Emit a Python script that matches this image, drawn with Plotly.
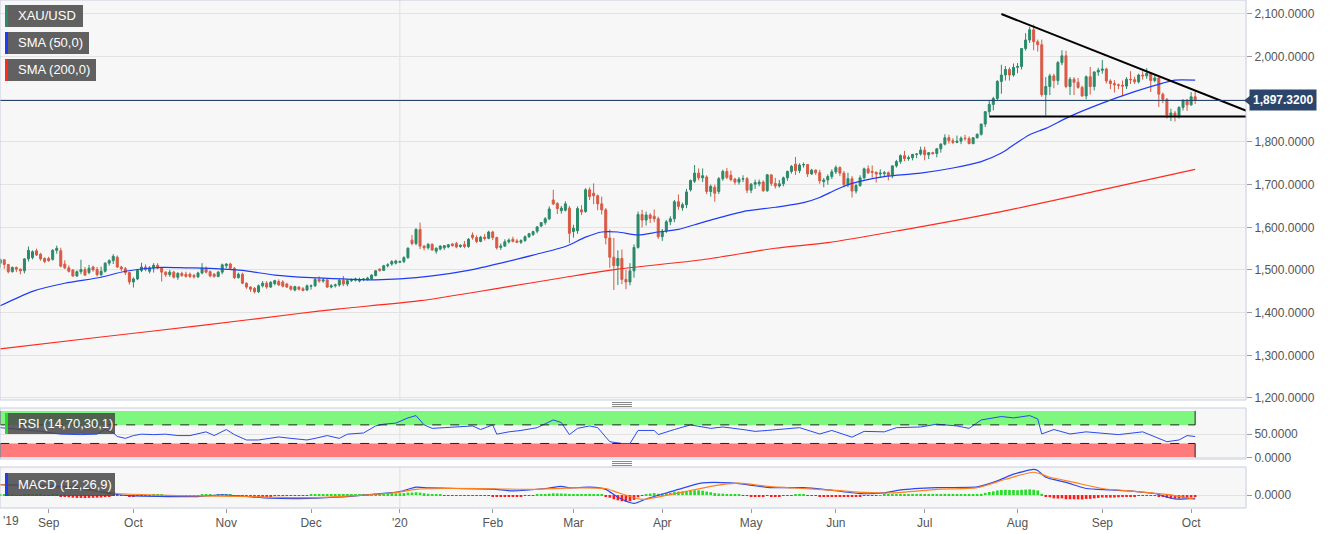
import numpy as np
import pandas as pd
import plotly.graph_objects as go

# ---------------- data ----------------
dates = pd.bdate_range("2019-08-15", "2020-10-02")

# daily candles [open, high, low, close] per month
aug_2019 = [[1516,1527,1505,1524],[1524,1525,1503,1513],[1513,1514,1492,1496],[1496,1508,1494,1506],
            [1506,1508,1495,1502],[1502,1503,1490,1498],[1498,1528,1492,1526],[1526,1555,1520,1546],
            [1529,1546,1525,1543],[1545,1550,1533,1535],[1537,1540,1522,1526],[1527,1530,1516,1520]]
sep_2019 = [[1527,1531,1519,1522],[1525,1549,1522,1546],[1546,1557,1538,1551],[1545,1552,1506,1509],
            [1514,1523,1502,1505],[1505,1511,1494,1497],[1500,1502,1484,1486],[1486,1499,1484,1496],
            [1496,1524,1490,1501],[1501,1507,1486,1488],[1494,1512,1490,1504],[1507,1510,1496,1500],
            [1501,1507,1485,1489],[1489,1508,1485,1497],[1497,1518,1494,1516],[1516,1525,1510,1522],
            [1522,1537,1514,1532],[1530,1534,1505,1507],[1507,1510,1497,1503],[1503,1507,1488,1494],
            [1494,1496,1466,1472]]
oct_2019 = [[1472,1483,1459,1479],[1479,1502,1476,1499],[1499,1517,1495,1507],[1507,1513,1497,1501],
            [1497,1509,1492,1505],[1505,1516,1494,1511],[1511,1516,1502,1505],[1505,1507,1473,1495],
            [1495,1497,1484,1489],[1489,1500,1484,1495],[1495,1498,1480,1483],[1483,1495,1477,1492],
            [1492,1496,1484,1487],[1490,1496,1482,1485],[1490,1494,1481,1485],[1487,1491,1480,1484],
            [1484,1496,1481,1493],[1493,1516,1490,1504],[1504,1508,1492,1495],[1496,1499,1483,1486],
            [1490,1493,1482,1485],[1485,1498,1483,1495],[1495,1515,1490,1512]]
nov_2019 = [[1510,1516,1504,1514],[1514,1517,1502,1504],[1504,1507,1479,1482],[1482,1494,1480,1490],
            [1490,1494,1467,1469],[1469,1471,1456,1460],[1460,1462,1449,1455],[1457,1460,1445,1449],
            [1449,1466,1446,1463],[1463,1474,1459,1469],[1469,1474,1456,1460],[1460,1474,1458,1471],
            [1468,1477,1464,1475],[1473,1478,1463,1465],[1472,1476,1459,1462],[1467,1470,1458,1460],
            [1461,1464,1452,1455],[1453,1463,1450,1461],[1460,1462,1452,1455],[1456,1460,1450,1452],
            [1453,1466,1451,1463]]
dec_2019 = [[1462,1466,1454,1463],[1463,1481,1460,1478],[1478,1485,1470,1474],[1474,1481,1470,1477],
            [1477,1478,1458,1460],[1460,1467,1457,1463],[1463,1468,1459,1465],[1465,1479,1461,1476],
            [1476,1486,1462,1467],[1467,1479,1462,1475],[1475,1480,1472,1477],[1476,1482,1473,1479],
            [1474,1482,1471,1478],[1477,1481,1474,1479],[1478,1484,1475,1481],[1479,1490,1477,1488],
            [1487,1500,1485,1498],[1502,1504,1496,1499],[1499,1512,1498,1510],[1510,1516,1506,1512],
            [1514,1523,1510,1520],[1516,1524,1513,1521]]
jan_2020 = [[1518,1522,1516,1520],[1520,1532,1516,1529],[1529,1553,1526,1551],[1570,1582,1558,1562],
            [1562,1598,1558,1595],[1595,1611,1549,1556],[1556,1558,1546,1552],[1552,1563,1548,1560],
            [1560,1563,1545,1547],[1544,1553,1538,1551],[1549,1558,1546,1556],[1552,1558,1547,1557],
            [1554,1561,1551,1559],[1561,1563,1555,1557],[1562,1566,1551,1554],[1555,1560,1552,1558],
            [1560,1568,1551,1555],[1555,1575,1552,1572],[1582,1588,1571,1576],[1576,1581,1563,1567],
            [1567,1580,1565,1577],[1577,1584,1569,1574],[1574,1592,1572,1589]]
feb_2020 = [[1589,1592,1570,1576],[1576,1578,1548,1552],[1553,1562,1547,1556],[1556,1572,1554,1566],
            [1566,1574,1562,1570],[1572,1578,1565,1567],[1568,1573,1563,1565],[1565,1572,1561,1569],
            [1569,1581,1566,1578],[1578,1587,1575,1585],[1583,1592,1580,1590],[1591,1603,1586,1601],
            [1603,1612,1600,1611],[1611,1624,1606,1620],[1620,1649,1617,1643],[1664,1688,1652,1655],
            [1656,1659,1631,1644],[1639,1650,1632,1645],[1640,1661,1637,1655],[1645,1650,1563,1586]]
mar_2020 = [[1590,1606,1576,1598],[1592,1649,1585,1644],[1641,1652,1629,1636],[1637,1692,1634,1688],
            [1688,1694,1664,1672],[1680,1703,1654,1674],[1674,1677,1640,1655],[1655,1672,1630,1641],
            [1641,1645,1560,1575],[1575,1595,1505,1530],[1530,1575,1453,1510],[1510,1546,1465,1527],
            [1527,1548,1467,1478],[1478,1500,1455,1472],[1472,1516,1464,1498],[1498,1560,1482,1553],
            [1553,1637,1550,1630],[1630,1641,1600,1617],[1617,1637,1604,1629],[1629,1633,1610,1621],
            [1626,1642,1612,1620],[1620,1625,1573,1578]]
apr_2020 = [[1578,1596,1568,1591],[1591,1617,1587,1613],[1613,1626,1605,1620],[1620,1664,1612,1660],
            [1660,1677,1641,1649],[1646,1658,1639,1653],[1653,1690,1645,1683],[1688,1712,1684,1710],
            [1708,1746,1704,1727],[1727,1738,1710,1716],[1716,1738,1706,1721],[1718,1722,1678,1684],
            [1684,1700,1672,1696],[1694,1700,1660,1680],[1684,1718,1678,1714],[1714,1735,1709,1731],
            [1731,1739,1713,1717],[1722,1733,1708,1712],[1713,1716,1700,1706],[1706,1718,1700,1713],
            [1713,1722,1706,1714],[1714,1718,1680,1687]]
may_2020 = [[1687,1704,1680,1701],[1701,1712,1690,1705],[1702,1712,1696,1706],[1706,1710,1683,1686],
            [1686,1725,1683,1723],[1723,1723,1697,1703],[1703,1716,1691,1697],[1697,1711,1693,1702],
            [1702,1719,1696,1716],[1716,1733,1709,1731],[1731,1746,1726,1743],[1748,1765,1723,1733],
            [1733,1750,1727,1746],[1746,1752,1740,1747],[1747,1748,1718,1725],[1725,1737,1723,1734],
            [1734,1736,1723,1728],[1728,1735,1702,1709],[1707,1716,1694,1711],[1711,1724,1700,1719],
            [1719,1736,1713,1730]]
jun_2020 = [[1730,1745,1725,1740],[1740,1743,1720,1727],[1727,1732,1694,1700],[1700,1728,1694,1714],
            [1714,1720,1670,1685],[1685,1702,1679,1698],[1698,1722,1695,1716],[1716,1740,1712,1737],
            [1737,1745,1725,1728],[1731,1745,1716,1729],[1729,1731,1705,1725],[1725,1736,1716,1727],
            [1726,1732,1718,1728],[1728,1731,1710,1722],[1722,1745,1715,1744],[1744,1758,1740,1754],
            [1754,1771,1749,1768],[1768,1779,1755,1761],[1761,1768,1756,1763],[1763,1772,1757,1771],
            [1771,1773,1762,1772],[1772,1789,1768,1781]]
jul_2020 = [[1781,1789,1757,1770],[1770,1776,1760,1775],[1775,1777,1770,1773],[1773,1786,1764,1784],
            [1784,1797,1775,1795],[1795,1818,1792,1810],[1810,1817,1796,1803],[1803,1809,1795,1799],
            [1799,1815,1797,1802],[1802,1813,1795,1809],[1809,1817,1803,1808],[1808,1813,1795,1796],
            [1796,1811,1795,1810],[1810,1820,1808,1818],[1818,1843,1815,1842],[1842,1872,1835,1871],
            [1871,1898,1862,1888],[1888,1906,1874,1902],[1902,1945,1898,1942],[1942,1981,1913,1957],
            [1957,1978,1944,1970],[1970,1975,1944,1957],[1957,1984,1953,1975]]
aug_2020 = [[1975,1985,1961,1977],[1977,2020,1970,2019],[2019,2055,2014,2039],[2039,2070,2032,2063],
            [2063,2075,2015,2035],[2035,2040,2012,2028],[2028,2040,1906,1911],[1911,1952,1862,1930],
            [1930,1960,1910,1955],[1955,1960,1926,1944],[1944,1990,1934,1986],[1986,2015,1980,2002],
            [2002,2014,1926,1930],[1930,1952,1910,1947],[1947,1952,1910,1940],[1940,1950,1925,1928],
            [1928,1932,1906,1908],[1908,1956,1900,1953],[1953,1976,1911,1930],[1930,1966,1921,1964],
            [1964,1974,1955,1968]]
sep_2020 = [[1968,1992,1960,1971],[1971,1974,1937,1943],[1943,1947,1924,1937],[1937,1945,1916,1934],
            [1934,1937,1924,1933],[1933,1944,1907,1931],[1931,1952,1924,1947],[1947,1966,1936,1946],
            [1946,1953,1936,1941],[1941,1960,1937,1957],[1957,1966,1946,1955],[1955,1973,1948,1961],
            [1961,1962,1917,1944],[1944,1959,1940,1950],[1950,1953,1882,1912],[1912,1916,1891,1900],
            [1900,1903,1855,1863],[1863,1878,1849,1868],[1868,1873,1848,1862],[1862,1884,1855,1881],
            [1881,1900,1874,1898],[1898,1901,1873,1887]]
oct_2020 = [[1887,1917,1885,1906],[1906,1918,1889,1897.32]]

# SMA (50)
sma50_dates = ["2019-08-15","2019-08-27","2019-09-06","2019-09-19","2019-09-27","2019-10-10","2019-10-18",
               "2019-10-28","2019-11-07","2019-11-19","2019-12-02","2019-12-12","2019-12-24","2020-01-01",
               "2020-01-13","2020-01-24","2020-02-05","2020-02-17","2020-02-27","2020-03-05","2020-03-11",
               "2020-03-17","2020-03-24","2020-03-31","2020-04-07","2020-04-13","2020-04-17","2020-04-29",
               "2020-05-11","2020-05-20","2020-05-26","2020-06-01","2020-06-05","2020-06-17","2020-06-30",
               "2020-07-10","2020-07-21","2020-07-28","2020-07-31","2020-08-06","2020-08-12","2020-08-20",
               "2020-09-01","2020-09-11","2020-09-22","2020-09-25","2020-10-02"]
sma50_vals = [1416,1450,1469,1483,1497,1506,1505,1504,1499,1488,1482,1479,1477,1479,1486,1499,1516,1535,
              1555,1577,1589,1589,1582,1589,1595,1606,1617,1637,1647,1658,1670,1688,1703,1719,1727,1739,
              1754,1774,1793,1817,1832,1860,1891,1918,1938,1945,1945]
# SMA (200)
sma200_dates = ["2019-08-15","2019-09-19","2019-10-24","2019-11-27","2019-12-11","2020-01-08","2020-02-05",
                "2020-02-27","2020-03-17","2020-04-15","2020-05-11","2020-05-28","2020-06-23","2020-07-28",
                "2020-08-31","2020-10-02"]
sma200_vals = [1315,1343,1370,1398,1409,1428,1458,1483,1502,1524,1551,1564,1593,1637,1686,1736]

# RSI (14)
rsi_dates = ["2019-08-15","2019-08-23","2019-08-29","2019-09-05","2019-09-12","2019-09-18","2019-09-20",
             "2019-09-24","2019-09-25","2019-09-27","2019-10-01","2019-10-03","2019-10-08","2019-10-11",
             "2019-10-16","2019-10-21","2019-10-25","2019-10-29","2019-11-01","2019-11-05","2019-11-08",
             "2019-11-13","2019-11-20","2019-11-25","2019-11-29","2019-12-03","2019-12-06","2019-12-11",
             "2019-12-13","2019-12-19","2019-12-24","2019-12-26","2019-12-31","2020-01-03","2020-01-07",
             "2020-01-09","2020-01-13","2020-01-16","2020-01-21","2020-01-27","2020-01-29","2020-02-03",
             "2020-02-04","2020-02-07","2020-02-12","2020-02-18","2020-02-24","2020-02-26","2020-02-28",
             "2020-03-03","2020-03-06","2020-03-10","2020-03-13","2020-03-18","2020-03-20","2020-03-24",
             "2020-03-30","2020-03-31","2020-04-06","2020-04-10","2020-04-17","2020-04-22","2020-04-29",
             "2020-05-04","2020-05-07","2020-05-14","2020-05-19","2020-05-26","2020-05-29","2020-06-05",
             "2020-06-10","2020-06-17","2020-06-22","2020-06-30","2020-07-06","2020-07-13","2020-07-16",
             "2020-07-21","2020-07-28","2020-07-31","2020-08-06","2020-08-10","2020-08-11","2020-08-14",
             "2020-08-20","2020-08-26","2020-09-01","2020-09-07","2020-09-15","2020-09-18","2020-09-23",
             "2020-09-28","2020-09-30","2020-10-02"]
rsi_vals = [64,60,56,50,49,50,60,53,45,41,47,50,49,50,47,47,55,47,60,49,37.5,37.5,44,41,37.5,41,47,41,
            50,52.6,67.7,71.5,73.8,85,90,70,62.5,64,65.5,67.7,60,70,50,55,58,64,80.6,75,49,62.5,67.7,64,
            33.8,30,30,58,58,49,60,70,62.5,65.5,60,56,58,62.5,64,50.4,58,43.6,56,55,64,65.5,71.5,67.7,
            62.5,80.6,88,85,90,82.8,50.4,60,50.4,55,52.6,49,55,45,33.8,37.5,47,45]

# MACD (12,26,9)
macd_dates = ["2019-08-15","2019-08-29","2019-09-12","2019-09-23","2019-09-30","2019-10-09","2019-10-23",
              "2019-10-31","2019-11-12","2019-11-18","2019-11-27","2019-12-10","2019-12-24","2020-01-01",
              "2020-01-07","2020-01-10","2020-01-21","2020-02-03","2020-02-10","2020-02-20","2020-02-26",
              "2020-02-28","2020-03-06","2020-03-12","2020-03-17","2020-03-23","2020-03-26","2020-04-02",
              "2020-04-07","2020-04-15","2020-04-24","2020-04-30","2020-05-08","2020-05-20","2020-05-27",
              "2020-06-09","2020-06-17","2020-06-23","2020-07-06","2020-07-20","2020-07-27","2020-07-31",
              "2020-08-07","2020-08-10","2020-08-12","2020-08-19","2020-08-26","2020-09-03","2020-09-11",
              "2020-09-18","2020-09-25","2020-10-02"]
macd_vals = [24,22,16.5,3.6,-1.4,-3,-3.6,0.7,-5,-7.2,-8,-5,2.2,8,18,16.5,15,13.7,9.4,15,20,16.5,18,13,
             -5,-19,-9,4.8,13,27.6,27.6,24,17,17,13,3.5,4.8,11.7,17,18.6,32.4,47.6,58.6,56,40.7,29,15,
             11.7,8.3,3.5,-9,-7.6]
signal_dates = ["2019-08-15","2019-09-12","2019-09-25","2019-10-09","2019-10-23","2019-11-06","2019-11-20",
                "2019-12-03","2019-12-17","2019-12-31","2020-01-07","2020-01-16","2020-02-03","2020-02-17",
                "2020-03-02","2020-03-12","2020-03-17","2020-03-25","2020-04-02","2020-04-09","2020-04-17",
                "2020-04-28","2020-05-07","2020-05-20","2020-06-02","2020-06-10","2020-06-19","2020-07-06",
                "2020-07-20","2020-07-29","2020-08-07","2020-08-13","2020-08-21","2020-09-01","2020-09-11",
                "2020-09-23","2020-10-02"]
signal_vals = [24,13,3.6,0,-2,-3,-5,-5.8,-1.4,5.8,13,15,14.4,13,16.5,15,5.8,-10,-0.7,8.3,20,27,20,15,10,
               6.2,4.8,13,17,36,52,40.7,29,15,8.3,1.4,-10]
hist_aug19 = [1.5,1.2,0.5,0.2,-0.3,-0.2,0.8,1.5,1.8,1.2,0.5,-0.2]
hist_sep19 = [-0.5,0.3,0.2,-2.5,-4,-5,-6,-6.5,-6.5,-6.8,-6.5,-6.2,-6,-5.5,-4.5,-2.5,-2,-1.5,-1.8,-2,-2.5]
hist_oct19 = [-2.2,-1.5,-0.8,-0.5,-0.3,0.2,0.3,0.2,-0.2,-0.3,-0.5,-0.4,-0.5,-0.6,-0.7,-0.5,-0.3,0.3,0.5,
              0.4,0.1,0.3,0.8]
hist_nov19 = [0.6,0.2,-1,-1.8,-2.6,-3.2,-3.5,-3.6,-3.4,-3,-2.8,-2.3,-1.8,-1.5,-1.2,-1,-0.8,-0.6,-0.5,-0.3,-0.1]
hist_dec19 = [0.3,0.8,0.8,0.9,0.4,0.5,0.6,1,1,1.2,1.4,1.6,1.8,1.9,2.1,2.6,3.2,3.4,3.6,3.8,4,4.1]
hist_jan20 = [4.2,4.5,5.5,5.8,6.5,5.6,4.2,3,1.8,0.8,0.2,-0.3,-0.6,-0.9,-1.2,-1.3,-1.5,-1.2,-0.8,-1,-1.3,
              -1.5,-1.2]
hist_feb20 = [-2.2,-3.5,-3.8,-3.5,-3,-2.8,-2.6,-2.2,-1.8,-1.2,-0.5,0.3,1,2,3.2,4,3.8,3.5,3.2,1]
hist_mar20 = [0.2,1.5,1.8,2.5,2.8,2.4,1.5,0.3,-2.5,-6,-9.5,-12,-14,-15.5,-14,-11,-5,-1.5,1.5,3.5,4.5,3]
hist_apr20 = [3.5,4.5,5,7.5,8,8.5,9.5,10.5,11,11,10,8,6.5,4.5,3.5,3.2,2.5,1.8,1,0.5,-0.5,-2]
hist_may20 = [-2.5,-2.8,-3,-2.8,-2,-2.4,-2.8,-2.5,-2,-1.2,-0.2,0.5,0.6,0.3,-0.8,-1.5,-2,-3,-3.8,-4,-3.8]
hist_jun20 = [-3.2,-3.6,-4.4,-4.2,-4.5,-3.8,-2.8,-1.5,-0.8,-0.3,-0.2,0.1,0.3,0.4,1,1.6,2.3,2.4,2.5,2.6,
              2.6,2.8]
hist_jul20 = [2.4,2.2,1.9,2,2.3,2.8,2.6,2.2,1.9,1.8,1.6,1.2,1.2,1.5,2.8,5,7,8.5,10.5,11.5,12,11.5,11.5]
hist_aug20 = [11,12,12.5,13,12,10.5,3,-2.5,-5,-7.5,-8,-7.5,-9.5,-9.5,-9.5,-9.8,-10,-8.8,-8.5,-7.5,-6.5]
hist_sep20 = [-5.5,-5.8,-5.8,-5.6,-5,-4.5,-3.8,-3.2,-2.8,-2,-1.4,-0.8,-0.8,-0.6,-2.5,-4,-6.5,-7.8,-8.5,
              -8,-7,-6.8]
hist_oct20 = [-5.5,-4.5]

# hand-drawn trend lines (date, price)
upper_trend_dates = ["2020-07-28", "2020-10-21"]
upper_trend_vals = [2100, 1872]
lower_trend_dates = ["2020-07-23", "2020-10-21"]
lower_trend_vals = [1860, 1860]
last_price = 1897.32

month_labels = ["Sep", "Oct", "Nov", "Dec", "'20", "Feb", "Mar", "Apr", "May", "Jun", "Jul", "Aug", "Sep", "Oct"]
month_starts = ["2019-09-01", "2019-10-01", "2019-11-01", "2019-12-01", "2020-01-01", "2020-02-01",
                "2020-03-01", "2020-04-01", "2020-05-01", "2020-06-01", "2020-07-01", "2020-08-01",
                "2020-09-01", "2020-10-01"]

# ---------------- assemble ----------------
months = [aug_2019, sep_2019, oct_2019, nov_2019, dec_2019, jan_2020, feb_2020, mar_2020,
          apr_2020, may_2020, jun_2020, jul_2020, aug_2020, sep_2020, oct_2020]
rows = [r for m in months for r in m]
hist = (hist_aug19 + hist_sep19 + hist_oct19 + hist_nov19 + hist_dec19 + hist_jan20 + hist_feb20 +
        hist_mar20 + hist_apr20 + hist_may20 + hist_jun20 + hist_jul20 + hist_aug20 + hist_sep20 + hist_oct20)
assert len(rows) == len(dates), (len(rows), len(dates))
assert len(hist) == len(dates), (len(hist), len(dates))
opens = [r[0] for r in rows]
highs = [r[1] for r in rows]
lows = [r[2] for r in rows]
closes = [r[3] for r in rows]

start = dates[0].date()
def pos(d):
    return int(np.busday_count(start, pd.Timestamp(d).date()))

xi = list(range(len(dates)))
last_i = xi[-1]

GREEN = "#2b8a69"
RED = "#d85a44"
FONT = "Arial, Liberation Sans, sans-serif"
W_PLOT, H_PLOT = 1246.0, 508.0
def px(v): return v / W_PLOT
def py(v): return 1 - v / H_PLOT

fig = go.Figure()
fig.add_trace(go.Candlestick(
    x=xi, open=opens, high=highs, low=lows, close=closes,
    increasing=dict(line=dict(color=GREEN, width=1), fillcolor=GREEN),
    decreasing=dict(line=dict(color=RED, width=1), fillcolor=RED),
    whiskerwidth=0, xaxis="x", yaxis="y", hoverinfo="skip"))
fig.add_trace(go.Scatter(x=[pos(d) for d in sma50_dates], y=sma50_vals, mode="lines",
                         line=dict(color="#1f3cf5", width=1.2, shape="spline", smoothing=0.7),
                         xaxis="x", yaxis="y"))
fig.add_trace(go.Scatter(x=[pos(d) for d in sma200_dates], y=sma200_vals, mode="lines",
                         line=dict(color="#ff2a1f", width=1.2, shape="spline", smoothing=0.7),
                         xaxis="x", yaxis="y"))
fig.add_trace(go.Scatter(x=[pos(d) for d in upper_trend_dates], y=upper_trend_vals, mode="lines",
                         line=dict(color="black", width=2), xaxis="x", yaxis="y"))
fig.add_trace(go.Scatter(x=[pos(d) for d in lower_trend_dates], y=lower_trend_vals, mode="lines",
                         line=dict(color="black", width=2), xaxis="x", yaxis="y"))
fig.add_trace(go.Scatter(x=[pos(d) for d in rsi_dates], y=rsi_vals, mode="lines",
                         line=dict(color="#2a48f0", width=1), xaxis="x2", yaxis="y2"))
fig.add_trace(go.Bar(x=xi, y=hist, width=0.65,
                     marker=dict(color=["#22dd22" if v >= 0 else "#ff1a1a" for v in hist], line=dict(width=0)),
                     xaxis="x3", yaxis="y3"))
fig.add_trace(go.Scatter(x=[pos(d) for d in macd_dates], y=macd_vals, mode="lines",
                         line=dict(color="#2a48f0", width=1.2, shape="spline", smoothing=0.6),
                         xaxis="x3", yaxis="y3"))
fig.add_trace(go.Scatter(x=[pos(d) for d in signal_dates], y=signal_vals, mode="lines",
                         line=dict(color="#ff7f1e", width=1.2, shape="spline", smoothing=0.6),
                         xaxis="x3", yaxis="y3"))

xr = [-0.05, -0.05 + W_PLOT / 4.037]
price_ticks = list(range(1200, 2101, 100))
price_text = ["" if v == 1900 else f"{v:,.4f}" for v in price_ticks]
common_y = dict(side="right", ticks="outside", ticklen=5, tickcolor="#9a9a9a",
                tickfont=dict(family=FONT, size=12, color="#555"), gridcolor="#e3e3e3",
                zeroline=False, showline=False, fixedrange=True)
fig.update_layout(
    width=1331, height=534, margin=dict(l=0, r=85, t=0, b=26),
    paper_bgcolor="white", plot_bgcolor="#f7f7f7", showlegend=False, hovermode=False,
    bargap=0.3,
    xaxis=dict(domain=[0, 1], range=xr, anchor="y", showticklabels=False, showgrid=False,
               zeroline=False, rangeslider=dict(visible=False)),
    xaxis2=dict(domain=[0, 1], range=xr, anchor="y2", matches="x", showticklabels=False,
                showgrid=False, zeroline=False),
    xaxis3=dict(domain=[0, 1], range=xr, anchor="y3", matches="x", showgrid=False, zeroline=False,
                tickvals=[pos(d) for d in month_starts], ticktext=month_labels, ticks="outside",
                ticklen=4, tickcolor="#9a9a9a", tickfont=dict(family=FONT, size=12, color="#555")),
    yaxis=dict(domain=[py(400), 1], range=[1195.3, 2132.8], tickvals=price_ticks, ticktext=price_text,
               **common_y),
    yaxis2=dict(domain=[py(459), py(408)], range=[-3.4, 106.3], tickvals=[0, 50],
                ticktext=["0.0000", "50.0000"], **common_y),
    yaxis3=dict(domain=[0, py(467)], range=[-29.5, 64], tickvals=[0], ticktext=["0.0000"], **common_y),
)

shapes = []
ann = []
BORDER = "#c7cce0"
# year gridline
for yr in ["y", "y2", "y3"]:
    shapes.append(dict(type="line", xref="x", yref=yr + " domain", x0=pos("2020-01-01"), x1=pos("2020-01-01"),
                       y0=0, y1=1, line=dict(color="#e0e0e0", width=1), layer="below"))
# RSI bands
shapes.append(dict(type="rect", xref="x", yref="y2", x0=0, x1=last_i, y0=70, y1=100,
                   fillcolor="#7df77d", line=dict(width=0), layer="below"))
shapes.append(dict(type="rect", xref="x", yref="y2", x0=0, x1=last_i, y0=0, y1=30,
                   fillcolor="#ff7b7b", line=dict(width=0), layer="below"))
for lv in [70, 30]:
    shapes.append(dict(type="line", xref="x", yref="y2", x0=0, x1=last_i, y0=lv, y1=lv,
                       line=dict(color="#222", width=1, dash="dash")))
for a, b in [(70, 100), (0, 30)]:
    for xx in [0, last_i]:
        shapes.append(dict(type="line", xref="x", yref="y2", x0=xx, x1=xx, y0=a, y1=b,
                           line=dict(color="#222", width=1)))
# last price line
shapes.append(dict(type="line", xref="x domain", yref="y", x0=0, x1=1, y0=last_price, y1=last_price,
                   line=dict(color="#22406a", width=1)))
# panel borders
for yr, xr_ in [("y", "x"), ("y2", "x2"), ("y3", "x3")]:
    shapes.append(dict(type="rect", xref=xr_ + " domain", yref=yr + " domain", x0=0, x1=1, y0=0, y1=1,
                       line=dict(color=BORDER, width=1), fillcolor="rgba(0,0,0,0)"))
# panel handles
for yc in [404.5, 463.5]:
    for dy in [-2, 0, 2]:
        shapes.append(dict(type="line", xref="paper", yref="paper", x0=px(612), x1=px(632),
                           y0=py(yc + dy), y1=py(yc + dy), line=dict(color="#8a8a8a", width=1)))

def label_box(x0, y0, x1, y1, strip, text):
    shapes.append(dict(type="rect", xref="paper", yref="paper", x0=px(x0), x1=px(x1), y0=py(y1), y1=py(y0),
                       fillcolor="rgba(72,72,72,0.86)", line=dict(width=0)))
    shapes.append(dict(type="rect", xref="paper", yref="paper", x0=px(x0), x1=px(x0 + 3), y0=py(y1), y1=py(y0),
                       fillcolor=strip, line=dict(width=0)))
    ann.append(dict(xref="paper", yref="paper", x=px(x0 + 11), y=py((y0 + y1) / 2), text=text,
                    showarrow=False, xanchor="left", yanchor="middle",
                    font=dict(family=FONT, size=13, color="white")))

label_box(5, 5, 83, 27, "#2b8a69", "XAU/USD")
label_box(5, 32, 89, 54, "#1f3cf5", "SMA (50,0)")
label_box(5, 59, 96, 81, "#ff2a1f", "SMA (200,0)")
label_box(5, 413, 115, 434, "#22dd22", "RSI (14,70,30,1)")
label_box(5, 473, 115, 496, "#1f3cf5", "MACD (12,26,9)")

# current price tag
shapes.append(dict(type="path", xref="paper", yref="y",
                   path=f"M {px(1244)},{last_price} L {px(1250)},{last_price + 11} L {px(1250)},{last_price - 11} Z",
                   fillcolor="#2c466b", line=dict(width=0)))
ann.append(dict(xref="paper", yref="y", x=px(1249), y=last_price, text=f"<b>{last_price:,.4f}</b>",
                showarrow=False, xanchor="left", yanchor="middle", bgcolor="#2c466b", borderpad=3,
                font=dict(family=FONT, size=12, color="white")))
ann.append(dict(xref="paper", yref="paper", x=px(1), y=py(521), text="'19", showarrow=False,
                xanchor="left", yanchor="middle", font=dict(family=FONT, size=12, color="#555")))

fig.update_layout(shapes=shapes, annotations=ann)
fig.write_html("out.html")
